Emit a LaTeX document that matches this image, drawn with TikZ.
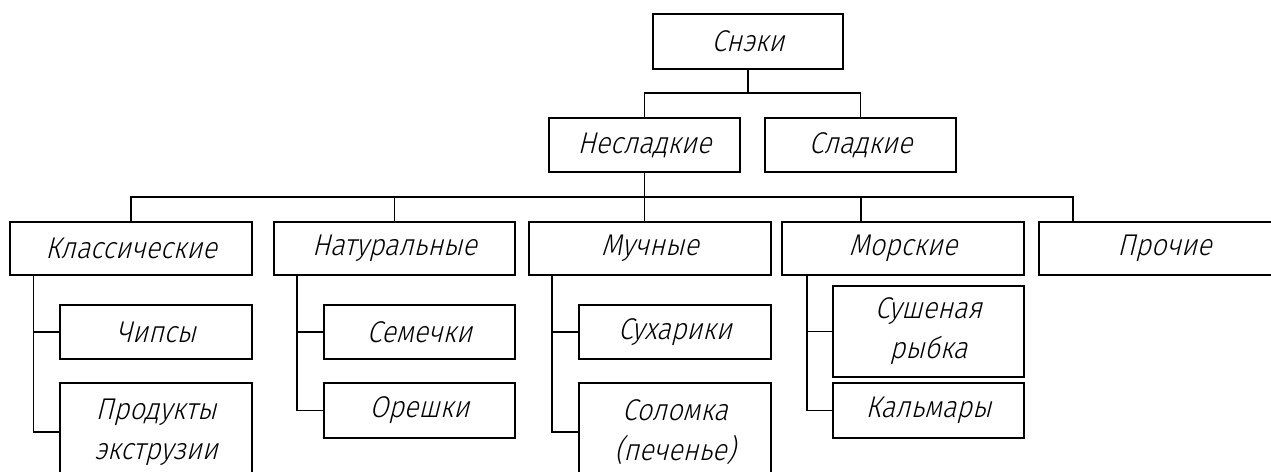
\documentclass[tikz,border=0pt]{standalone}
\usepackage{fontspec}
\setmainfont{Fira Sans}[UprightFont=* Light, ItalicFont=* Light, ItalicFeatures={FakeSlant=0.25}, FakeStretch=0.9]
\begin{document}
\begin{tikzpicture}[x=1pt,y=-1pt,
  box/.style={draw,line width=1.6pt,inner sep=0pt,align=center,
    font=\fontsize{30}{40}\selectfont\itshape},
  wire/.style={line width=1.6pt}]
\useasboundingbox (0,0) rectangle (1271,471);
\fill[white] (0,0) rectangle (1271,471);
\clip (0,0) rectangle (1271,471);
% level 0/1
\node[box,minimum width=190pt,minimum height=55pt] (snacks) at (748,41.5) {Снэки};
\node[box,minimum width=191pt,minimum height=54pt] (nesl) at (644.5,145) {Несладкие};
\node[box,minimum width=191pt,minimum height=54pt] (sladk) at (860.5,145) {Сладкие};
% level 2
\node[box,minimum width=242pt,minimum height=53pt] (klass) at (131,248.5) {Классические};
\node[box,minimum width=241pt,minimum height=53pt] (natur) at (394.5,248.5) {Натуральные};
\node[box,minimum width=242pt,minimum height=53pt] (much) at (650,248.5) {Мучные};
\node[box,minimum width=242pt,minimum height=53pt] (morsk) at (903,248.5) {Морские};
\node[box,minimum width=251pt,minimum height=53pt] (proch) at (1164.5,248.5) {Прочие};
% level 3
\node[box,minimum width=192pt,minimum height=54pt] (chips) at (156,332) {Чипсы};
\node[box,minimum width=192pt,minimum height=98pt] (prod) at (156,432) {Продукты\\экструзии};
\node[box,minimum width=191pt,minimum height=54pt] (semech) at (419.5,332) {Семечки};
\node[box,minimum width=191pt,minimum height=55pt] (oresh) at (419.5,410.5) {Орешки};
\node[box,minimum width=192pt,minimum height=54pt] (sukh) at (675,332) {Сухарики};
\node[box,minimum width=192pt,minimum height=98pt] (solom) at (675,432) {Соломка\\(печенье)};
\node[box,minimum width=191pt,minimum height=91pt] (sush) at (928.5,331.5) {Сушеная\\рыбка};
\node[box,minimum width=191pt,minimum height=55pt] (kalm) at (928.5,410.5) {Кальмары};
% connectors
\coordinate (b1) at (748,93);
\coordinate (b2) at (645,197);
\coordinate (dM) at (861,222);
\coordinate (dP) at (1073,222);
\coordinate (kv) at (33.5,275);
\coordinate (nv) at (297,275);
\coordinate (mv) at (552,275);
\coordinate (sv) at (807,275);
\draw[wire] (snacks.south) -- (b1);
\draw[wire] (nesl.north) |- (b1) -| (sladk.north);
\draw[wire] (nesl.south) -- (nesl.south |- much.north);
\draw[wire] (klass.north) |- (b2) -| (dP);
\draw[wire] (natur.north) -- (natur.north |- b2);
\draw[wire] (dM) -- (dM |- b2);
\draw[wire] (kv) |- (chips.west);
\draw[wire] (kv) |- (prod.west);
\draw[wire] (nv) |- (semech.west);
\draw[wire] (nv) |- (oresh.west);
\draw[wire] (mv) |- (sukh.west);
\draw[wire] (mv) |- (solom.west);
\draw[wire] (sv) |- (sush.west);
\draw[wire] (sv) |- (kalm.west);
\end{tikzpicture}
\end{document}
